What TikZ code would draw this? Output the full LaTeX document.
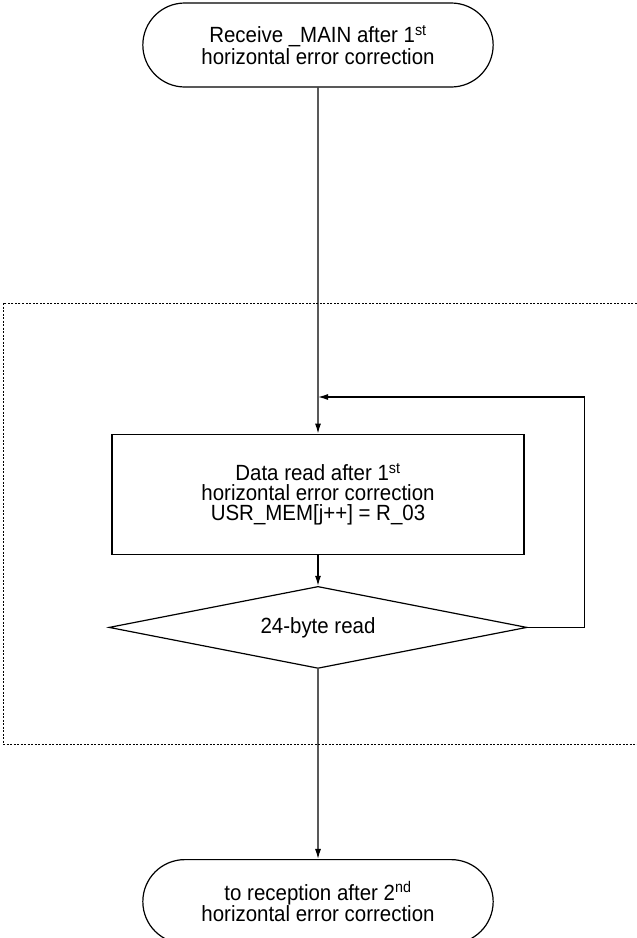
\documentclass[tikz,border=0pt]{standalone}
\usepackage{fontspec}
\setmainfont{Liberation Sans}[FakeStretch=0.93]
\usetikzlibrary{shapes.geometric,shapes.misc,arrows.meta,positioning}

\begin{document}
\begin{tikzpicture}[x=1pt,y=1pt,line width=1.2pt,>={Latex[length=10pt,width=6pt]},
                    every node/.style={font=\fontsize{22}{20}\selectfont,align=center},
                    term node/.style={rounded rectangle,draw,minimum width=357pt,minimum height=84pt},
                    proc node/.style={rectangle,draw,minimum width=412pt,minimum height=120pt},
                    test node/.style={diamond,draw,shape aspect=5.1,minimum width=418pt,minimum height=82pt,inner sep=0pt}]
  \useasboundingbox (0,0) rectangle (637,-938);

  % group frame, open on the right
  \draw[-,line width=0.9pt,dash pattern=on 2pt off 1.5pt]
    (640,-303) -- (3,-303) -- (3,-744) -- (640,-744);

  \node[term node] (1) at (318,-45) {Receive \_MAIN after 1\textsuperscript{st}\\horizontal error correction};
  \node[proc node] (2) [below=346pt of 1] {Data read after 1\textsuperscript{st}\\horizontal error correction\\USR\_MEM[j++] = R\_03};
  \node[test node] (3) [below=31pt of 2] {24-byte read};
  \node[term node] (4) [below=190pt of 3] {to reception after 2\textsuperscript{nd}\\horizontal error correction};

  \coordinate (back) at (1.south |- 0,-397);

  \path[->]
    (1) edge (2)
    (2) edge (3)
    (3) edge (4);
  \draw[->] (3.east) -- ++(57,0) |- (back);
\end{tikzpicture}
\end{document}
